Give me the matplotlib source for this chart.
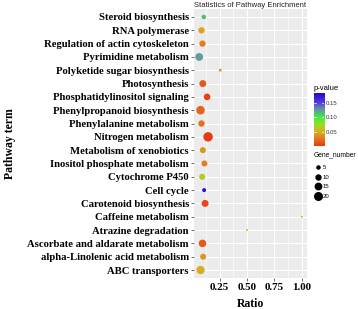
import matplotlib
matplotlib.use('agg')
from matplotlib import pyplot as plt
from matplotlib.colors import LinearSegmentedColormap, Normalize
from matplotlib.lines import Line2D
import numpy as np

# pathway terms, bottom to top (as on the y axis)
pathways = ['ABC transporters', 'alpha-Linolenic acid metabolism', 'Ascorbate and aldarate metabolism',
            'Atrazine degradation', 'Caffeine metabolism', 'Carotenoid biosynthesis', 'Cell cycle',
            'Cytochrome P450', 'Inositol phosphate metabolism', 'Metabolism of xenobiotics',
            'Nitrogen metabolism', 'Phenylalanine metabolism', 'Phenylpropanoid biosynthesis',
            'Phosphatidylinositol signaling', 'Photosynthesis', 'Polyketide sugar biosynthesis',
            'Pyrimidine metabolism', 'Regulation of actin cytoskeleton', 'RNA polymerase',
            'Steroid biosynthesis']
ratio = [0.076, 0.100, 0.094, 0.500, 1.000, 0.118, 0.109, 0.091, 0.112, 0.097,
         0.145, 0.085, 0.076, 0.136, 0.097, 0.256, 0.064, 0.094, 0.085, 0.106]
p_value = [0.050, 0.040, 0.015, 0.065, 0.065, 0.008, 0.175, 0.065, 0.030, 0.040,
           0.002, 0.025, 0.020, 0.005, 0.015, 0.040, 0.125, 0.030, 0.045, 0.115]
gene_number = [17, 9, 14, 1, 1, 12, 4, 9, 9, 9,
               22, 10, 18, 11, 12, 2, 15, 10, 10, 5]

x_ticks = [0.25, 0.50, 0.75, 1.00]
cbar_ticks = [0.05, 0.10, 0.15]
size_breaks = [5, 10, 15, 20]

P_MIN, P_MAX = 0.002, 0.183
stops = [(0.002, '#E83A12'), (0.030, '#E27E22'), (0.050, '#D8AE22'), (0.075, '#98DC20'),
         (0.100, '#40EE40'), (0.130, '#6C88AC'), (0.150, '#5040DC'), (0.183, '#3000CC')]
cmap = LinearSegmentedColormap.from_list(
    'pv', [((v - P_MIN) / (P_MAX - P_MIN), c) for v, c in stops])
norm = Normalize(P_MIN, P_MAX)

SIZE_K = 2.1
serif = ['Liberation Serif', 'DejaVu Serif']
sans = ['Liberation Sans', 'DejaVu Sans']

fig = plt.figure(figsize=(3.58, 3.09), dpi=100)
ax = fig.add_axes([0.542, 0.1003, 0.3156, 0.8706])
ax.set_facecolor('#EBEBEB')
for s in ax.spines.values():
    s.set_visible(False)

y = np.arange(len(pathways))
ax.set_xlim(0.017, 1.047)
ax.set_ylim(-0.6, len(pathways) - 0.4)
ax.set_xticks(x_ticks)
ax.set_xticks([0.125, 0.375, 0.625, 0.875], minor=True)
ax.set_yticks(y)
ax.set_xticklabels(['%.2f' % t for t in x_ticks], family=serif, fontweight='bold', fontsize=7.9)
ax.set_yticklabels(pathways, family=serif, fontweight='bold', fontsize=7.7)
ax.grid(True, which='major', color='white', lw=0.8)
ax.grid(True, which='minor', axis='x', color='white', lw=0.4)
ax.set_axisbelow(True)
ax.tick_params(which='major', length=2.2, width=0.5, color='#333333', pad=1.5)
ax.tick_params(which='minor', length=0)

ax.scatter(ratio, y, s=np.array(gene_number) * SIZE_K, c=p_value, cmap=cmap, norm=norm,
           edgecolors='none', zorder=3)

ax.set_xlabel('Ratio', family=serif, fontweight='bold', fontsize=8.5, labelpad=4.5)
ax.set_ylabel('Pathway term', family=serif, fontweight='bold', fontsize=8.5)
ax.yaxis.set_label_coords(-1.58, 0.5)
ax.set_title('Statistics of Pathway Enrichment', family=sans, fontsize=5.5, loc='left',
             pad=1.5, color='#222222')

# p-value colorbar
cax = fig.add_axes([0.877, 0.5275, 0.028, 0.1715])
grad = np.linspace(P_MIN, P_MAX, 200).reshape(-1, 1)
cax.imshow(grad, aspect='auto', origin='lower', cmap=cmap, norm=norm,
           extent=[0, 1, P_MIN, P_MAX])
cax.set_xticks([])
cax.yaxis.tick_right()
cax.set_yticks(cbar_ticks)
cax.set_yticklabels(['%.2f' % t for t in cbar_ticks], family=sans, fontsize=4.3, color='#333333')
cax.tick_params(axis='y', length=0, pad=1.5)
for t in cbar_ticks:
    cax.plot([0, 0.2], [t, t], color='white', lw=0.5)
    cax.plot([0.8, 1], [t, t], color='white', lw=0.5)
cax.set_xlim(0, 1)
for s in cax.spines.values():
    s.set_visible(False)
fig.text(0.877, 0.703, 'p-value', family=sans, fontsize=5.5, va='bottom', ha='left')

# Gene_number legend
fig.text(0.875, 0.498, 'Gene_number', family=sans, fontsize=4.8, va='center', ha='left')
handles = [Line2D([], [], ls='none', marker='o', color='black', markeredgewidth=0,
                  markersize=np.sqrt(n * SIZE_K)) for n in size_breaks]
leg = fig.legend(handles, [str(n) for n in size_breaks], loc='upper left',
                 bbox_to_anchor=(0.87, 0.48), frameon=False, handlelength=0.9,
                 handletextpad=0.3, labelspacing=0.75, borderpad=0.2,
                 prop={'family': sans, 'size': 4.3})

fig.savefig('out.png', dpi=100)
